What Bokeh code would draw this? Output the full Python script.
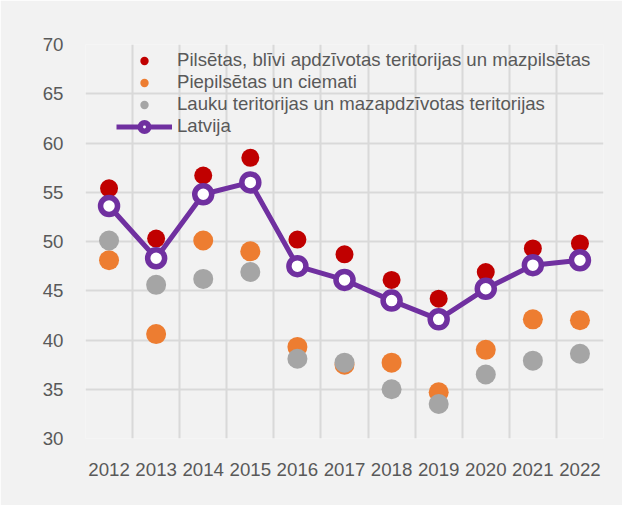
from bokeh.plotting import figure
from bokeh.models import FixedTicker, Legend, LegendItem, ColumnDataSource, Range1d
from bokeh.embed import file_html
from bokeh.resources import INLINE

years = ["2012", "2013", "2014", "2015", "2016", "2017", "2018", "2019", "2020", "2021", "2022"]
pilsetas = [55.4, 50.3, 56.7, 58.5, 50.2, 48.7, 46.1, 44.2, 46.9, 49.3, 49.8]
piepilsetas = [48.1, 40.6, 50.1, 49.0, 39.3, 37.5, 37.7, 34.7, 39.0, 42.1, 42.0]
lauku = [50.1, 45.6, 46.2, 46.9, 38.1, 37.7, 35.0, 33.5, 36.5, 37.9, 38.6]
latvija = [53.6, 48.3, 54.8, 56.0, 47.5, 46.1, 44.0, 42.1, 45.2, 47.6, 48.1]
y_ticks = [30, 35, 40, 45, 50, 55, 60, 65, 70]

names = ["Pilsētas, blīvi apdzīvotas teritorijas un mazpilsētas",
         "Piepilsētas un ciemati",
         "Lauku teritorijas un mazapdzīvotas teritorijas",
         "Latvija"]

FONT = "Liberation Sans"
TXT = "#595959"
GRID = "#d9d9d9"
W, H = 622, 505

xs = list(range(len(years)))
src = ColumnDataSource(dict(x=xs, a=pilsetas, b=piepilsetas, c=lauku, d=latvija))

p = figure(width=W, height=H, output_backend="svg", toolbar_location=None,
           x_range=Range1d(-0.5, len(years) - 0.5), y_range=Range1d(30, 70),
           min_border_left=85, min_border_right=19, min_border_top=44, min_border_bottom=67,
           background_fill_color="#f2f2f2", border_fill_color="#f2f2f2")
p.outline_line_color = None

p.xaxis.ticker = FixedTicker(ticks=xs)
p.xaxis.major_label_overrides = {i: y for i, y in enumerate(years)}
p.xgrid.ticker = FixedTicker(ticks=[i - 0.5 for i in range(len(years) + 1)])
p.yaxis.ticker = FixedTicker(ticks=y_ticks)
p.ygrid.ticker = FixedTicker(ticks=y_ticks)
for g in (p.xgrid, p.ygrid):
    g.grid_line_color = GRID
    g.grid_line_width = 2
for ax in (p.xaxis, p.yaxis):
    ax.axis_line_color = None
    ax.major_tick_line_color = None
    ax.minor_tick_line_color = None
    ax.major_label_text_font = FONT
    ax.major_label_text_font_size = "18.7px"
    ax.major_label_text_color = TXT
    ax.major_label_standoff = 16
p.xaxis.major_label_standoff = 18

r1 = p.scatter("x", "a", source=src, size=18, fill_color="#c00000", line_color=None)
r2 = p.scatter("x", "b", source=src, size=20, fill_color="#ed7d31", line_color=None)
r3 = p.scatter("x", "c", source=src, size=20, fill_color="#a5a5a5", line_color=None)
r4 = p.line("x", "d", source=src, line_color="#7030a0", line_width=5)
r5 = p.scatter("x", "d", source=src, size=17, fill_color="white", line_color="#7030a0", line_width=5.5)

legend = Legend(items=[LegendItem(label=names[0], renderers=[r1]),
                       LegendItem(label=names[1], renderers=[r2]),
                       LegendItem(label=names[2], renderers=[r3]),
                       LegendItem(label=names[3], renderers=[r4, r5])],
                location=(31, 301), orientation="vertical",
                background_fill_alpha=0, border_line_color=None,
                label_text_font=FONT, label_text_font_size="18.6px", label_text_color=TXT,
                glyph_width=56, glyph_height=21, label_height=21, label_standoff=5,
                spacing=0, padding=0, margin=0)
p.add_layout(legend, "center")

open("out.html", "w").write(file_html(p, INLINE))
